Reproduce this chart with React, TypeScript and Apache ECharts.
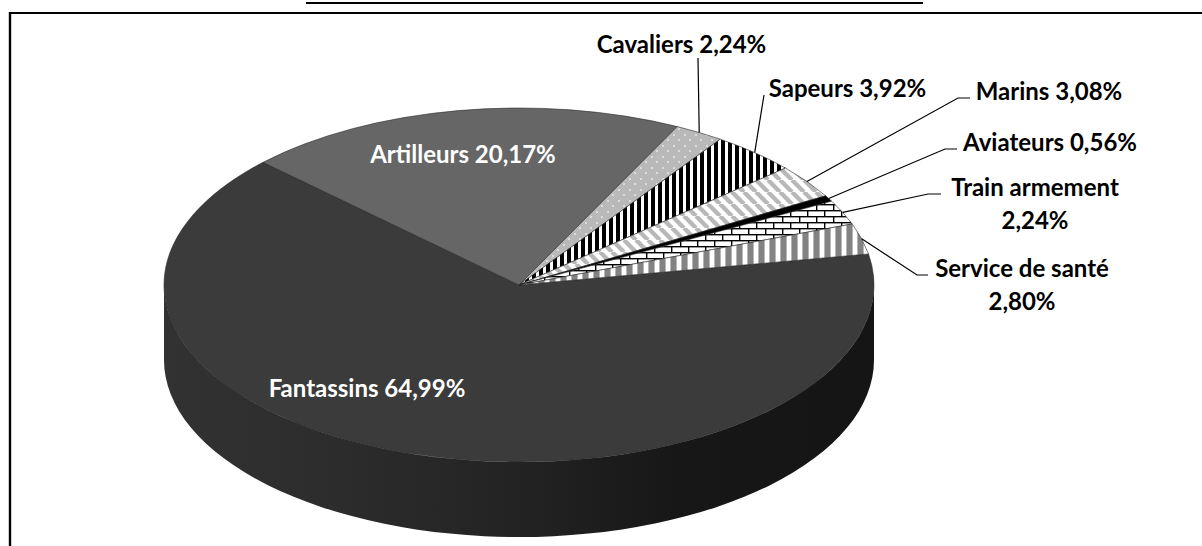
import React, { useEffect, useRef } from "react";
import * as echarts from "echarts";

// Data
const categories = ["Fantassins", "Artilleurs", "Cavaliers", "Sapeurs", "Marins", "Aviateurs", "Train armement", "Service de santé"];
const shares = [64.99, 20.17, 2.24, 3.92, 3.08, 0.56, 2.24, 2.8];

// Layout
const PIE = { cx: 519, cy: 285, rx: 355, ry: 177, depth: 75, firstAngle: -10.1 };
const FONT = "bold 24px Lato, Carlito, sans-serif";
const LINE_H = 33;
const LABELS = [
  { x: 367, y: 387, fill: "#ffffff", split: false },
  { x: 463, y: 153, fill: "#ffffff", split: false },
  { x: 681.5, y: 43, fill: "#000000", split: false, leader: [[698, 58]] },
  { x: 847.5, y: 87, fill: "#000000", split: false, leader: [[764, 95]] },
  { x: 1049, y: 90, fill: "#000000", split: false, leader: [[970, 98], [958, 98]] },
  { x: 1050, y: 141, fill: "#000000", split: false, leader: [[957, 149], [945, 149]] },
  { x: 1035, y: 186, fill: "#000000", split: true, leader: [[941, 194], [928, 194]] },
  { x: 1022, y: 267, fill: "#000000", split: true, leader: [[928, 275], [917, 275]] },
] as { x: number; y: number; fill: string; split: boolean; leader?: number[][] }[];

function tile(w: number, h: number, draw: (c: CanvasRenderingContext2D) => void) {
  const cv = document.createElement("canvas");
  cv.width = w;
  cv.height = h;
  draw(cv.getContext("2d")!);
  return { image: cv, repeat: "repeat" } as any;
}

function makeFills(): any[] {
  const dots = tile(11, 11, (c) => {
    c.fillStyle = "#b9b9b9";
    c.fillRect(0, 0, 11, 11);
    c.fillStyle = "#dcdcdc";
    c.fillRect(2, 2, 2, 2);
    c.fillRect(7, 7, 2, 2);
  });
  const blackStripes = tile(7, 7, (c) => {
    c.fillStyle = "#ffffff";
    c.fillRect(0, 0, 7, 7);
    c.fillStyle = "#000000";
    c.fillRect(0, 0, 4, 7);
  });
  const diagonal = tile(12, 12, (c) => {
    c.fillStyle = "#ffffff";
    c.fillRect(0, 0, 12, 12);
    c.strokeStyle = "#b8b8b8";
    c.lineWidth = 4.4;
    for (const o of [-12, 0, 12]) {
      c.beginPath();
      c.moveTo(o, 0);
      c.lineTo(o + 12, 12);
      c.stroke();
    }
  });
  const bricks = tile(17, 12, (c) => {
    c.fillStyle = "#ffffff";
    c.fillRect(0, 0, 17, 12);
    c.fillStyle = "#000000";
    c.fillRect(0, 0, 17, 1.4);
    c.fillRect(0, 6, 17, 1.4);
    c.fillRect(0, 0, 1.4, 6);
    c.fillRect(8, 6, 1.4, 6);
  });
  const grayStripes = tile(11, 11, (c) => {
    c.fillStyle = "#ffffff";
    c.fillRect(0, 0, 11, 11);
    c.fillStyle = "#838383";
    c.fillRect(0, 0, 5, 11);
    c.fillStyle = "#b8b8b8";
    c.fillRect(5, 0, 1, 11);
    c.fillRect(10, 0, 1, 11);
  });
  return ["#3b3b3b", "#666666", dots, blackStripes, diagonal, "#000000", bricks, grayStripes];
}

const rad = (d: number) => (d * Math.PI) / 180;
const px = (a: number) => PIE.cx + PIE.rx * Math.cos(rad(a));
const py = (a: number) => PIE.cy + PIE.ry * Math.sin(rad(a));
const arc = (a0: number, a1: number, dy = 0, sweep = 1) =>
  `A${PIE.rx} ${PIE.ry} 0 ${Math.abs(a1 - a0) > 180 ? 1 : 0} ${sweep} ${px(a1)} ${py(a1) + dy}`;

function slicePath(a0: number, a1: number) {
  return `M${PIE.cx} ${PIE.cy}L${px(a0)} ${py(a0)}${arc(a0, a1)}Z`;
}

function sidePath(a0: number, a1: number) {
  const d = PIE.depth;
  return `M${px(a0)} ${py(a0)}${arc(a0, a1)}L${px(a1)} ${py(a1) + d}${arc(a1, a0, d, 0)}Z`;
}

const sideGradient = {
  type: "linear",
  x: 0,
  y: 0,
  x2: 1,
  y2: 0,
  colorStops: [
    { offset: 0, color: "#323232" },
    { offset: 0.25, color: "#2c2c2c" },
    { offset: 0.5, color: "#232323" },
    { offset: 0.72, color: "#171717" },
    { offset: 1, color: "#151515" },
  ],
};

const pct = (v: number) => v.toFixed(2).replace(".", ",") + "%";

export default function App() {
  const ref = useRef<HTMLDivElement>(null);
  useEffect(() => {
    document.documentElement.style.margin = "0";
    document.body.style.margin = "0";
    document.body.style.overflow = "hidden";
    const chart = echarts.init(ref.current!, null, { renderer: "svg" });
    const fills = makeFills();
    const total = shares.reduce((s, v) => s + v, 0);
    const starts: number[] = [];
    shares.reduce((acc, v, i) => {
      starts[i] = acc;
      return acc + (v / total) * 360;
    }, PIE.firstAngle);

    const renderItem = (params: any, api: any) => {
      const i = params.dataIndex;
      const a0 = starts[i];
      const a1 = a0 + (api.value(0) / total) * 360;
      const mid = (a0 + a1) / 2;
      const children: any[] = [];
      const s0 = Math.max(a0, 0);
      const s1 = Math.min(a1, 180);
      if (s1 > s0) {
        children.push({
          type: "path",
          shape: { pathData: sidePath(s0, s1) },
          style: { fill: sideGradient, stroke: "none" },
        });
      }
      children.push({
        type: "path",
        shape: { pathData: slicePath(a0, a1) },
        style: { fill: fills[i], stroke: "#2a2a2a", lineWidth: 0.6 },
      });
      const lab = LABELS[i];
      if (lab.leader) {
        children.push({
          type: "polyline",
          shape: { points: [...lab.leader, [px(mid), py(mid)]] },
          style: { fill: "none", stroke: "#000000", lineWidth: 1.2 },
        });
      }
      const name = categories[i];
      const lines = lab.split ? [name, pct(api.value(0))] : [`${name} ${pct(api.value(0))}`];
      lines.forEach((t, k) => {
        children.push({
          type: "text",
          z2: 10,
          style: {
            text: t,
            x: lab.x,
            y: lab.y + k * LINE_H,
            fill: lab.fill,
            font: FONT,
            textAlign: "center",
            textVerticalAlign: "middle",
          },
        });
      });
      return { type: "group", children };
    };

    chart.setOption({
      animation: false,
      backgroundColor: "#ffffff",
      graphic: [
        { type: "line", shape: { x1: 306, y1: 3, x2: 923, y2: 3 }, style: { stroke: "#000", lineWidth: 2 } },
        { type: "line", shape: { x1: 9, y1: 13, x2: 1202, y2: 13 }, style: { stroke: "#000", lineWidth: 2 } },
        { type: "line", shape: { x1: 10, y1: 12, x2: 10, y2: 546 }, style: { stroke: "#000", lineWidth: 2.4 } },
      ],
      series: [
        {
          type: "custom",
          coordinateSystem: "none",
          silent: true,
          clip: false,
          renderItem,
          data: shares.map((v) => [v]),
        },
      ],
    });
    return () => chart.dispose();
  }, []);
  return <div ref={ref} style={{ width: 1202, height: 546 }} />;
}
